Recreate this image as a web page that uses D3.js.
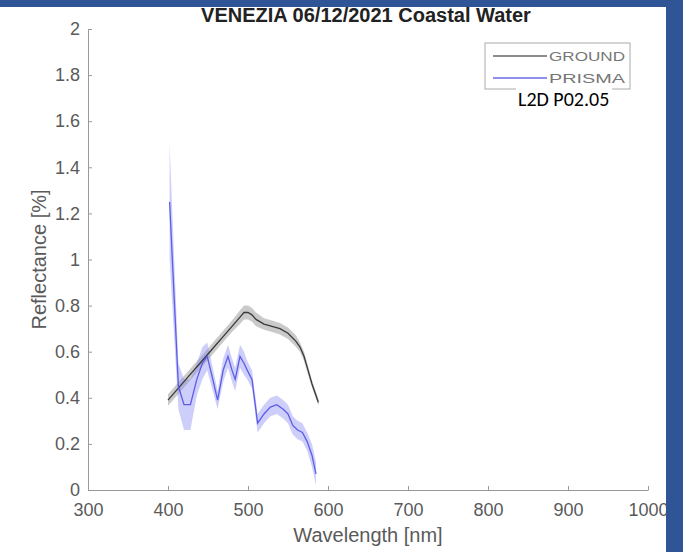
<!DOCTYPE html>
<meta charset="utf-8">
<style>
body { margin: 0; background: #fff; }
svg { display: block; font-family: "Liberation Sans", Arial, sans-serif; }
.axis path, .axis line { stroke: #999; }
.axis text { fill: #5a5a5a; font-size: 18px; }
</style>
<body>
<script src="https://cdn.jsdelivr.net/npm/d3@7/dist/d3.min.js"></script>
<script>

// ---- data ----
var groundNm  = [400, 410, 420, 430, 440, 450, 460, 470, 480, 490, 495, 500, 505, 510, 520, 530, 540, 550, 560, 565, 570, 575, 580, 585, 588];
var groundVal = [0.39, 0.43, 0.47, 0.51, 0.55, 0.59, 0.63, 0.67, 0.71, 0.75, 0.77, 0.77, 0.76, 0.74, 0.72, 0.71, 0.70, 0.68, 0.645, 0.62, 0.58, 0.52, 0.46, 0.41, 0.38];
var groundStd = [0.025, 0.025, 0.025, 0.025, 0.025, 0.025, 0.025, 0.025, 0.025, 0.03, 0.03, 0.03, 0.03, 0.03, 0.025, 0.025, 0.025, 0.025, 0.025, 0.02, 0.02, 0.02, 0.015, 0.015, 0.015];

var prismaNm  = [402, 413, 420, 428, 436, 443, 449, 456, 462, 469, 475, 480, 484, 490, 495, 499, 505, 512, 520, 528, 536, 544, 550, 556, 562, 568, 574, 580, 585];
var prismaVal = [1.25, 0.45, 0.37, 0.37, 0.48, 0.55, 0.58, 0.48, 0.39, 0.52, 0.58, 0.52, 0.48, 0.58, 0.55, 0.52, 0.48, 0.29, 0.33, 0.36, 0.37, 0.35, 0.33, 0.28, 0.26, 0.25, 0.21, 0.15, 0.07];
var prismaStd = [0.25, 0.1, 0.11, 0.11, 0.07, 0.07, 0.06, 0.05, 0.04, 0.05, 0.05, 0.05, 0.05, 0.05, 0.05, 0.04, 0.04, 0.04, 0.04, 0.04, 0.04, 0.04, 0.04, 0.04, 0.04, 0.04, 0.04, 0.05, 0.05];

var xTicks = [300, 400, 500, 600, 700, 800, 900, 1000];
var yTicks = [0, 0.2, 0.4, 0.6, 0.8, 1, 1.2, 1.4, 1.6, 1.8, 2];

var W = 683, H = 552;
var mLeft = 88, mRight = 648, mTop = 29, mBottom = 490;

var svg = d3.select("body").append("svg")
    .attr("width", W)
    .attr("height", H);

var x = d3.scaleLinear().domain([300, 1000]).range([mLeft, mRight]);
var y = d3.scaleLinear().domain([0, 2]).range([mBottom, mTop]);

function rows(nm, val, sd) {
  return nm.map(function(d, i) { return {x: d, y: val[i], s: sd[i]}; });
}
var ground = rows(groundNm, groundVal, groundStd);
var prisma = rows(prismaNm, prismaVal, prismaStd);

var area = d3.area()
    .x(function(d) { return x(d.x); })
    .y0(function(d) { return y(d.y - d.s); })
    .y1(function(d) { return y(d.y + d.s); });
var line = d3.line()
    .x(function(d) { return x(d.x); })
    .y(function(d) { return y(d.y); });

// axes
svg.append("g")
    .attr("class", "axis")
    .attr("transform", "translate(0," + mBottom + ")")
    .call(d3.axisBottom(x).tickValues(xTicks).tickSize(-4).tickPadding(13).tickSizeOuter(0)
      .tickFormat(d3.format("d")));

svg.append("g")
    .attr("class", "axis")
    .attr("transform", "translate(" + mLeft + ",0)")
    .call(d3.axisLeft(y).tickValues(yTicks).tickSize(-4).tickPadding(8).tickSizeOuter(0)
      .tickFormat(function(d) { return String(d); }));

// bands and lines
svg.append("path").datum(ground)
    .attr("d", area)
    .attr("fill", "#8a8a8a").attr("opacity", 0.45);
svg.append("path").datum(prisma)
    .attr("d", area)
    .attr("fill", "#8585f2").attr("opacity", 0.4);
svg.append("path").datum(ground)
    .attr("d", line)
    .attr("fill", "none").attr("stroke", "#3a3a3a").attr("stroke-width", 1.3);
svg.append("path").datum(prisma)
    .attr("d", line)
    .attr("fill", "none").attr("stroke", "#5c5ce6").attr("stroke-width", 1.3);

// titles
svg.append("text")
    .attr("x", 366).attr("y", 22)
    .attr("text-anchor", "middle")
    .style("font-weight", "bold").style("font-size", "20px").style("fill", "#222")
    .text("VENEZIA 06/12/2021 Coastal Water");

svg.append("text")
    .attr("x", 368).attr("y", 542)
    .attr("text-anchor", "middle")
    .style("font-size", "20px").style("fill", "#5a5a5a")
    .text("Wavelength [nm]");

svg.append("text")
    .attr("transform", "translate(46," + y(1) + ") rotate(-90)")
    .attr("text-anchor", "middle")
    .style("font-size", "20px").style("fill", "#5a5a5a")
    .text("Reflectance [%]");

// legend
var lg = svg.append("g");
lg.append("rect")
    .attr("x", 485).attr("y", 43).attr("width", 145).attr("height", 46)
    .attr("fill", "#fff").attr("stroke", "#aaa");
var items = [{name: "GROUND", c: "#666"}, {name: "PRISMA", c: "#6a6ae8"}];
items.forEach(function(d, i) {
  var yy = 56 + i * 22;
  lg.append("line")
      .attr("x1", 493).attr("x2", 547).attr("y1", yy).attr("y2", yy)
      .attr("stroke", d.c).attr("stroke-width", 1.3);
  lg.append("text")
      .attr("x", 549).attr("y", yy + 5)
      .attr("textLength", 76).attr("lengthAdjust", "spacingAndGlyphs")
      .style("font-size", "13px").style("fill", "#777")
      .text(d.name);
});

// overlay note
svg.append("rect")
    .attr("x", 516).attr("y", 88).attr("width", 96).attr("height", 24)
    .attr("fill", "#fff");
svg.append("text")
    .attr("x", 518).attr("y", 106)
    .style("font-family", "Carlito, 'Open Sans', sans-serif")
    .style("font-size", "20px").style("fill", "#000")
    .text("L2D P02.05");

// blue frame
svg.append("rect").attr("x", 0).attr("y", 0).attr("width", W).attr("height", 7).attr("fill", "#2f5597");
svg.append("rect").attr("x", 666).attr("y", 0).attr("width", W - 666).attr("height", H).attr("fill", "#2f5597");

</script>
</body>
